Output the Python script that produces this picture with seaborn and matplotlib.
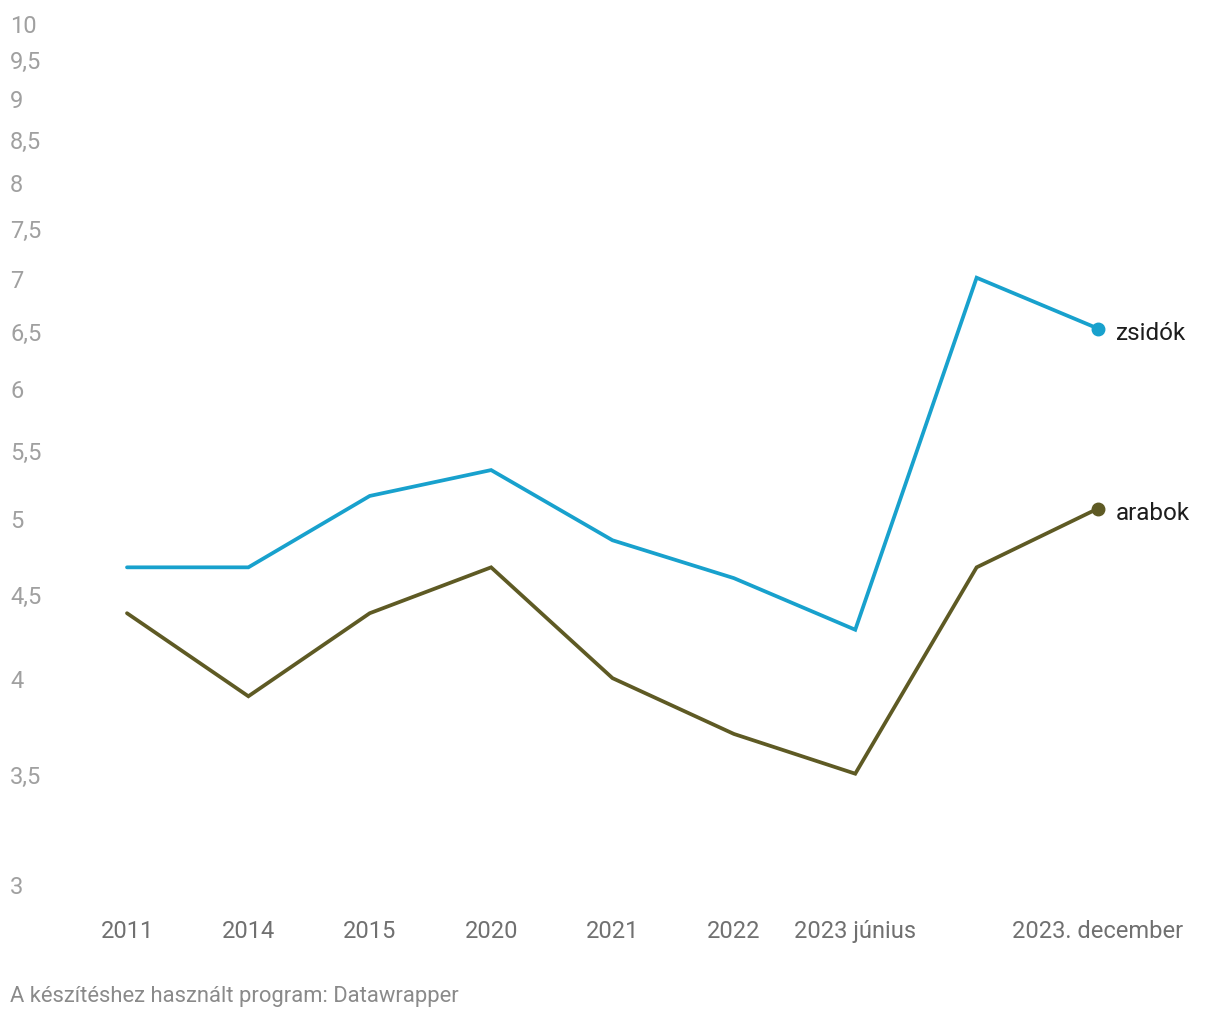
import matplotlib
matplotlib.use("Agg")
import matplotlib.pyplot as plt
import seaborn as sns
import pandas as pd
import numpy as np

# ---- data ----
categories = ["2011", "2014", "2015", "2020", "2021", "2022", "2023 június", "", "2023. december"]
zsidok = [4.67, 4.67, 5.16, 5.35, 4.85, 4.60, 4.28, 7.00, 6.52]
arabok = [4.38, 3.90, 4.38, 4.67, 4.00, 3.70, 3.50, 4.67, 5.07]
series_names = ["zsidók", "arabok"]
y_ticks = [3, 3.5, 4, 4.5, 5, 5.5, 6, 6.5, 7, 7.5, 8, 8.5, 9, 9.5, 10]
y_tick_labels = ["3", "3,5", "4", "4,5", "5", "5,5", "6", "6,5", "7", "7,5", "8", "8,5", "9", "9,5", "10"]
footer = "A készítéshez használt program: Datawrapper"

colors = {"zsidók": "#18a1cd", "arabok": "#5e5a24"}

sns.set_theme(style="white")
plt.rcParams["font.family"] = ["Roboto", "DejaVu Sans"]

df = pd.DataFrame({
    "pos": list(range(len(categories))) * 2,
    "value": zsidok + arabok,
    "series": [series_names[0]] * len(zsidok) + [series_names[1]] * len(arabok),
})

W, H = 1220, 1020
fig = plt.figure(figsize=(W / 100, H / 100), dpi=100)
left, right = 127 / W, 1098 / W
top, bottom = 1 - 23.5 / H, 1 - 885 / H
ax = fig.add_axes([left, bottom, right - left, top - bottom])

sns.lineplot(data=df, x="pos", y="value", hue="series", palette=colors,
             linewidth=2.7, sort=False, legend=False, ax=ax)
for line in ax.lines:
    line.set_clip_on(False)
    line.set_solid_joinstyle("miter")

ax.set_yscale("log")
ax.set_ylim(3, 10)
ax.set_xlim(0, len(categories) - 1)

# end markers and labels
last = len(categories) - 1
for name, vals in zip(series_names, [zsidok, arabok]):
    ax.plot([last], [vals[-1]], "o", color=colors[name], markersize=9, clip_on=False, zorder=5)
    ax.annotate(name, xy=(last, vals[-1]), xytext=(13, -3), textcoords="offset points",
                ha="left", va="center", fontsize=17.5, color="#1d1d1d", annotation_clip=False)

# y ticks
ax.yaxis.set_minor_locator(matplotlib.ticker.NullLocator())
ax.set_yticks(y_ticks)
ax.set_yticklabels(y_tick_labels)
ax.tick_params(axis="y", length=0, pad=117 * 0.72, labelsize=17, labelcolor="#a0a0a0")
for lab in ax.get_yticklabels():
    lab.set_horizontalalignment("left")

# x ticks
ax.set_xticks(range(len(categories)))
ax.set_xticklabels(categories)
ax.tick_params(axis="x", length=0, pad=25, labelsize=17, labelcolor="#707070")

ax.set_xlabel("")
ax.set_ylabel("")
for s in ax.spines.values():
    s.set_visible(False)
ax.grid(False)

fig.text(10 / W, 1 - 997 / H, footer, ha="left", va="center", fontsize=15.8, color="#8a8a8a")

fig.savefig("out.png", dpi=100)
